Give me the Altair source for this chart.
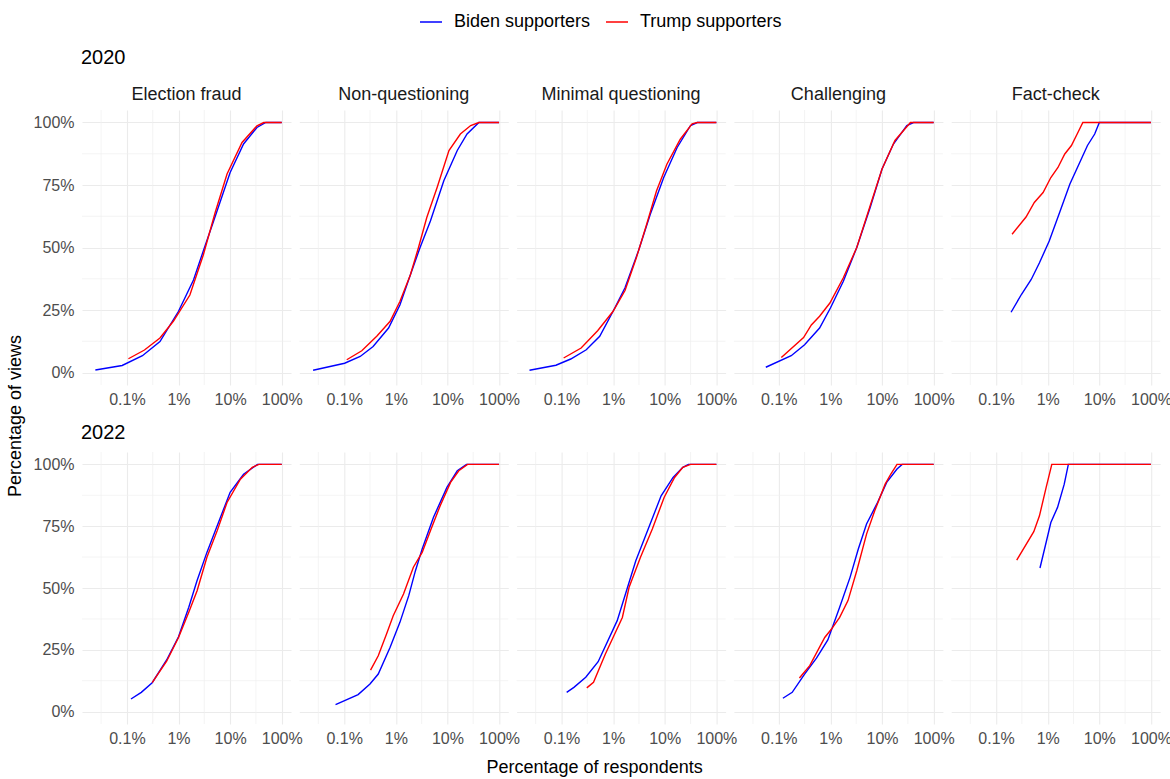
import altair as alt
import pandas as pd

FONT = "Liberation Sans"

CATEGORIES = ["Election fraud", "Non-questioning", "Minimal questioning", "Challenging", "Fact-check"]
YEARS = ["2020", "2022"]
GROUPS = ["Biden supporters", "Trump supporters"]
COLORS = ["#0000FF", "#FF0000"]

# Cumulative share of views (y, %) against share of respondents (x, %), 2020
biden_2020_fraud_x = [0.0245, 0.081, 0.2, 0.437, 1.0, 1.95, 3.02, 4.79, 10, 18.2, 33.1, 49, 100]
biden_2020_fraud_y = [1.0, 2.8, 6.7, 12.4, 24.5, 37, 48.6, 60.6, 80, 91.4, 98, 100, 100]
trump_2020_fraud_x = [0.107, 0.219, 0.437, 0.794, 1.66, 3.02, 5.13, 8.71, 17.0, 33.1, 44.7, 100]
trump_2020_fraud_y = [5.5, 9, 13.8, 20.5, 31, 47, 64, 79.4, 92, 98.7, 100, 100]

biden_2020_nonq_x = [0.025, 0.102, 0.204, 0.363, 0.724, 1.2, 1.91, 2.95, 4.68, 8.51, 15.5, 24.0, 40.7, 100]
biden_2020_nonq_y = [0.9, 3.7, 6.4, 10.4, 17.8, 27, 39, 50, 60.6, 76.7, 88.8, 95.4, 100, 100]
trump_2020_nonq_x = [0.112, 0.219, 0.427, 0.776, 1.2, 1.91, 2.75, 3.98, 6.31, 10.7, 17.8, 28.2, 40.7, 100]
trump_2020_nonq_y = [5.1, 8.7, 14.5, 20.5, 28.4, 39, 50, 62, 74, 88.8, 95.4, 98.8, 100, 100]

biden_2020_minq_x = [0.024, 0.078, 0.151, 0.302, 0.55, 1.0, 1.7, 3.09, 5.25, 9.55, 17.4, 31.6, 42.7, 100]
biden_2020_minq_y = [0.9, 2.9, 5.4, 9.1, 14.5, 24.5, 33.9, 48.6, 63.3, 78, 90, 98.8, 100, 100]
trump_2020_minq_x = [0.11, 0.24, 0.501, 1.0, 1.7, 2.82, 4.47, 6.92, 11.0, 20.0, 33.9, 42.7, 100]
trump_2020_minq_y = [5.8, 9.8, 16.7, 24.5, 32.8, 45.9, 59.3, 72.6, 83.3, 93.3, 99.5, 100, 100]

biden_2020_chal_x = [0.056, 0.174, 0.316, 0.617, 1.0, 1.78, 3.24, 5.89, 10, 16.6, 30.2, 40.7, 100]
biden_2020_chal_y = [2.1, 6.7, 11.1, 17.8, 25.8, 36.5, 50, 66, 81.4, 91.4, 98.8, 100, 100]
trump_2020_chal_x = [0.112, 0.302, 0.427, 0.617, 0.977, 1.78, 3.24, 5.89, 10, 17.8, 35.5, 100]
trump_2020_chal_y = [6, 14, 19, 22.5, 27.8, 37.9, 50, 66.7, 81.4, 92.8, 100, 100]

biden_2020_fact_x = [0.195, 0.309, 0.479, 0.692, 1.07, 1.7, 2.69, 4.17, 5.89, 8.13, 10, 100]
biden_2020_fact_y = [24.1, 31.2, 37.2, 43.9, 52.6, 64, 75.4, 84, 90.8, 95.4, 100, 100]
trump_2020_fact_x = [0.204, 0.38, 0.55, 0.813, 1.15, 1.58, 2.14, 2.88, 3.72, 4.79, 100]
trump_2020_fact_y = [55.3, 62.2, 68, 72, 78, 82, 87.4, 90.8, 95.4, 100, 100]

# Same measures, 2022
biden_2022_fraud_x = [0.12, 0.19, 0.309, 0.589, 1.0, 1.58, 2.29, 3.55, 5.62, 10, 18.2, 33.9, 100]
biden_2022_fraud_y = [5.1, 7.8, 11.7, 20.9, 30.3, 42.2, 53, 64.4, 75.2, 88.7, 96, 100, 100]
trump_2022_fraud_x = [0.309, 0.589, 1.0, 1.58, 2.29, 3.55, 5.62, 8.71, 15.8, 26.9, 36, 100]
trump_2022_fraud_y = [11.7, 20.4, 30, 40.2, 48.9, 62.4, 73.2, 84.6, 94, 98.8, 100, 100]

biden_2022_nonq_x = [0.068, 0.186, 0.316, 0.457, 0.776, 1.2, 1.78, 2.4, 3.24, 5.37, 9.77, 15.5, 23.4, 100]
biden_2022_nonq_y = [2.8, 6.9, 11.2, 15.2, 26, 36.1, 46.9, 57, 65.8, 78.6, 90.7, 97.4, 100, 100]
trump_2022_nonq_x = [0.324, 0.457, 0.661, 0.891, 1.41, 2.19, 3.24, 4.68, 7.24, 11.5, 16.6, 24.5, 100]
trump_2022_nonq_y = [16.8, 22.6, 31.4, 38.8, 47.6, 58.4, 64.4, 73.2, 83.3, 92.7, 97.4, 100, 100]

biden_2022_minq_x = [0.126, 0.174, 0.295, 0.513, 1.2, 1.86, 2.75, 4.27, 8.51, 14.5, 22.4, 28.8, 100]
biden_2022_minq_y = [7.8, 9.8, 13.9, 20.2, 36.8, 49.6, 61, 71.2, 87.3, 94.7, 98.8, 100, 100]
trump_2022_minq_x = [0.309, 0.417, 0.708, 1.51, 2.04, 3.39, 5.75, 9.77, 15.5, 22.4, 31.6, 100]
trump_2022_minq_y = [9.6, 11.9, 23.3, 38.1, 50.3, 62.4, 73.9, 86.7, 94.7, 98.8, 100, 100]

biden_2022_chal_x = [0.12, 0.182, 0.316, 0.537, 0.891, 1.51, 2.4, 3.47, 5.01, 7.94, 12.3, 19.5, 24.5, 100]
biden_2022_chal_y = [5.4, 7.8, 15.2, 21.6, 29, 42.2, 54.3, 65.8, 75.9, 84, 92.7, 98.1, 100, 100]
trump_2022_chal_x = [0.251, 0.398, 0.776, 1.05, 1.51, 2.19, 3.24, 5.01, 7.24, 11.5, 14.8, 19.5, 100]
trump_2022_chal_y = [13.6, 18.6, 30, 33.4, 38.1, 44.9, 57, 71.8, 81.3, 92, 96.1, 100, 100]

biden_2022_fact_x = [0.708, 0.933, 1.15, 1.55, 2.09, 2.51, 100]
biden_2022_fact_y = [58.1, 68.5, 76.5, 82.6, 92, 100, 100]
trump_2022_fact_x = [0.251, 0.537, 0.692, 0.933, 1.2, 100]
trump_2022_fact_y = [61.3, 72.8, 79.2, 90.7, 100, 100]

SERIES = {
    ("2020", "Election fraud"): ((biden_2020_fraud_x, biden_2020_fraud_y), (trump_2020_fraud_x, trump_2020_fraud_y)),
    ("2020", "Non-questioning"): ((biden_2020_nonq_x, biden_2020_nonq_y), (trump_2020_nonq_x, trump_2020_nonq_y)),
    ("2020", "Minimal questioning"): ((biden_2020_minq_x, biden_2020_minq_y), (trump_2020_minq_x, trump_2020_minq_y)),
    ("2020", "Challenging"): ((biden_2020_chal_x, biden_2020_chal_y), (trump_2020_chal_x, trump_2020_chal_y)),
    ("2020", "Fact-check"): ((biden_2020_fact_x, biden_2020_fact_y), (trump_2020_fact_x, trump_2020_fact_y)),
    ("2022", "Election fraud"): ((biden_2022_fraud_x, biden_2022_fraud_y), (trump_2022_fraud_x, trump_2022_fraud_y)),
    ("2022", "Non-questioning"): ((biden_2022_nonq_x, biden_2022_nonq_y), (trump_2022_nonq_x, trump_2022_nonq_y)),
    ("2022", "Minimal questioning"): ((biden_2022_minq_x, biden_2022_minq_y), (trump_2022_minq_x, trump_2022_minq_y)),
    ("2022", "Challenging"): ((biden_2022_chal_x, biden_2022_chal_y), (trump_2022_chal_x, trump_2022_chal_y)),
    ("2022", "Fact-check"): ((biden_2022_fact_x, biden_2022_fact_y), (trump_2022_fact_x, trump_2022_fact_y)),
}

X_TICKS = [0.1, 1, 10, 100]
X_MINOR = [0.0316, 0.316, 3.16, 31.6]
Y_TICKS = [0, 25, 50, 75, 100]
Y_MINOR = [12.5, 37.5, 62.5, 87.5]

rows = []
for (year, cat), pair in SERIES.items():
    for group, (xs, ys) in zip(GROUPS, pair):
        for i, (xv, yv) in enumerate(zip(xs, ys)):
            rows.append({"year": year, "category": cat, "group": group, "i": i, "x": xv, "y": yv})
df = pd.DataFrame(rows)

X_SCALE = alt.Scale(type="log", domain=[0.0135, 151], nice=False)
Y_SCALE = alt.Scale(domain=[-5, 105], nice=False, zero=False)
COLOR = alt.Color(
    "group:N",
    scale=alt.Scale(domain=GROUPS, range=COLORS),
    legend=alt.Legend(
        title=None, orient="none", direction="horizontal", legendX=337, legendY=-100,
        symbolType="stroke", symbolSize=484, symbolStrokeWidth=1.5,
        labelFontSize=18, labelColor="#000000", labelFont=FONT,
        labelOffset=11, columnPadding=12, padding=0,
    ),
)

PANEL_W = 209
ROW_H = {"2020": 275, "2022": 272}


def panel(year, cat, col):
    h = ROW_H[year]
    x_axis = alt.Axis(values=X_TICKS, labelExpr="datum.value + '%'", title=None)
    y_axis = alt.Axis(values=Y_TICKS, labelExpr="datum.value + '%'", title=None, labels=(col == 0))
    sub = df[(df.year == year) & (df.category == cat)]

    grid_x = alt.Chart(pd.DataFrame({"v": X_MINOR})).mark_rule(color="#EFEFEF", strokeWidth=0.7).encode(
        x=alt.X("v:Q", scale=X_SCALE, axis=x_axis)
    )
    grid_y = alt.Chart(pd.DataFrame({"v": Y_MINOR})).mark_rule(color="#EFEFEF", strokeWidth=0.7).encode(
        y=alt.Y("v:Q", scale=Y_SCALE, axis=y_axis)
    )
    lines = alt.Chart(sub).mark_line(strokeWidth=1.4).encode(
        x=alt.X("x:Q", scale=X_SCALE, axis=x_axis),
        y=alt.Y("y:Q", scale=Y_SCALE, axis=y_axis),
        color=COLOR,
        order="i:Q",
    )
    layers = [grid_x, grid_y, lines]

    if year == "2020":
        strip = alt.Chart(pd.DataFrame({"t": [cat]})).mark_text(
            fontSize=18, color="#1A1A1A", font=FONT, align="center", baseline="middle"
        ).encode(text="t:N", x=alt.value(PANEL_W / 2), y=alt.value(-15))
        layers.append(strip)
    if col == 0:
        yr = alt.Chart(pd.DataFrame({"t": [year]})).mark_text(
            fontSize=20, color="#000000", font=FONT, align="left", baseline="middle"
        ).encode(text="t:N", x=alt.value(-1), y=alt.value(-52 if year == "2020" else -19))
        layers.append(yr)
    if year == "2020" and col == 0:
        ytitle = alt.Chart(pd.DataFrame({"t": ["Percentage of views"]})).mark_text(
            fontSize=18, color="#000000", font=FONT, angle=270, align="center", baseline="middle"
        ).encode(text="t:N", x=alt.value(-66), y=alt.value(306))
        layers.append(ytitle)
    if year == "2022" and col == 2:
        xtitle = alt.Chart(pd.DataFrame({"t": ["Percentage of respondents"]})).mark_text(
            fontSize=18, color="#000000", font=FONT, align="center", baseline="middle"
        ).encode(text="t:N", x=alt.value(78), y=alt.value(316))
        layers.append(xtitle)

    return alt.layer(*layers).properties(width=PANEL_W, height=h)


panels = [panel(year, cat, c) for year in YEARS for c, cat in enumerate(CATEGORIES)]

chart = (
    alt.concat(*panels, columns=5, spacing={"row": 67, "column": 8.3}, bounds="flush")
    .properties(padding={"left": 7, "top": 10, "right": -2, "bottom": 3})
    .configure_view(stroke=None)
    .configure_axis(
        domain=False, ticks=False, tickSize=0, grid=True, gridColor="#EBEBEB", gridWidth=1.1,
        labelFont=FONT, labelFontSize=16, labelColor="#4D4D4D",
    )
    .configure_axisX(labelPadding=6)
    .configure_axisY(labelPadding=8)
    .configure_text(font=FONT)
)

chart.save("out.html", embed_options={"renderer": "svg", "actions": False})
